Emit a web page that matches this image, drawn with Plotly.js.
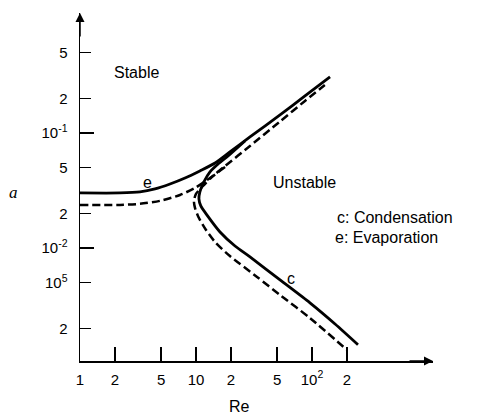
<!DOCTYPE html>
<html>
<head>
<meta charset="utf-8">
<script src="https://cdn.plot.ly/plotly-3.0.1.min.js"></script>
<style>html,body{margin:0;padding:0;background:#fff;}#chart{width:485px;height:417px;}</style>
</head>
<body>
<div id="chart"></div>
<script>
// Evaporation (e) curves
const reE_solid = [1, 2.21, 3.29, 4.43, 5.97, 8.04, 10.8, 14.6, 19.6, 29.2, 53, 87, 143];
const aE_solid  = [0.0301, 0.0301, 0.0307, 0.0326, 0.0360, 0.0406, 0.0468, 0.0548, 0.0684, 0.0923, 0.1435, 0.210, 0.307];
const reE_dash  = [1, 2.21, 3.29, 4.9, 7.28, 9.8, 13.2, 17.8, 29.2, 53, 87, 129];
const aE_dash   = [0.0237, 0.0237, 0.0242, 0.0257, 0.0289, 0.0333, 0.0406, 0.0516, 0.0771, 0.126, 0.190, 0.261];
// Condensation (c) curves
const reC_solid = [26.4, 18.9, 15.5, 13.2, 11.7, 10.8, 10.6, 11.0, 12.4, 16.1, 21.7, 29.2, 53, 96, 158, 249];
const aC_solid  = [0.0852, 0.0631, 0.0537, 0.0458, 0.0375, 0.0307, 0.0267, 0.0232, 0.0194, 0.01378, 0.0104, 0.00836, 0.00527, 0.00333, 0.00218, 0.00144];
const reC_dash  = [17.8, 13.7, 11.5, 10.0, 9.6, 9.8, 10.6, 12.2, 14.6, 19.6, 33.6, 53, 96, 200];
const aC_dash   = [0.0506, 0.0414, 0.0346, 0.0295, 0.0256, 0.0223, 0.0182, 0.01435, 0.01127, 0.00851, 0.00560, 0.0039, 0.00246, 0.0013];

// Tick labels
const xTickVals = [1, 2, 5, 10, 20, 50, 100, 200];
const xTickText = ['1', '2', '5', '10', '2', '5', '10<sup>2</sup>', '2'];
const yTickVals = [0.5, 0.2, 0.1, 0.05, 0.02, 0.01, 0.005, 0.002];
const yTickText = ['5', '2', '10<sup>-1</sup>', '5', '2', '10<sup>-2</sup>', '10<sup>5</sup>', '2'];
const yDecadeVals = [0.1, 0.01];

const FONT = 'Liberation Sans, Arial, sans-serif';
const solid = {color: '#000', width: 2.8, shape: 'spline', smoothing: 0.7};
const dashed = {color: '#000', width: 2.5, dash: '8px,4px', shape: 'spline', smoothing: 0.7};

const traces = [
  {x: reE_solid, y: aE_solid, mode: 'lines', line: solid, hoverinfo: 'skip'},
  {x: reE_dash, y: aE_dash, mode: 'lines', line: dashed, hoverinfo: 'skip'},
  {x: reC_solid, y: aC_solid, mode: 'lines', line: solid, hoverinfo: 'skip'},
  {x: reC_dash, y: aC_dash, mode: 'lines', line: dashed, hoverinfo: 'skip'},
  {x: [1], y: [0.01], yaxis: 'y2', mode: 'markers', marker: {opacity: 0}, hoverinfo: 'skip'}
];

function label(x, y, text, extra) {
  return Object.assign({xref: 'paper', yref: 'paper', x: x, y: y, text: text, showarrow: false,
    xanchor: 'center', yanchor: 'middle', font: {family: FONT, size: 16, color: '#000'}}, extra || {});
}

const layout = {
  width: 485, height: 417,
  margin: {l: 80, r: 52, t: 13, b: 56, pad: 0},
  paper_bgcolor: '#fff', plot_bgcolor: '#fff',
  showlegend: false,
  font: {family: FONT, size: 15, color: '#000'},
  xaxis: {
    type: 'log', range: [0, 3.043],
    showline: true, linecolor: '#000', linewidth: 1.5,
    showgrid: false, zeroline: false,
    ticks: 'inside', ticklen: 14, tickwidth: 1.5, tickcolor: '#000',
    tickmode: 'array', tickvals: xTickVals, ticktext: xTickText,
    tickfont: {family: FONT, size: 15, color: '#000'},
    ticklabelstandoff: 4
  },
  yaxis: {
    type: 'log', range: [-2.983, 0.0435],
    showline: true, linecolor: '#000', linewidth: 1.5,
    showgrid: false, zeroline: false,
    ticks: 'inside', ticklen: 11, tickwidth: 1.5, tickcolor: '#000',
    tickmode: 'array', tickvals: yTickVals, ticktext: yTickText,
    tickfont: {family: FONT, size: 15, color: '#000'},
    ticklabelstandoff: 8
  },
  yaxis2: {
    type: 'log', range: [-2.983, 0.0435], overlaying: 'y',
    showline: false, showgrid: false, zeroline: false,
    ticks: 'inside', ticklen: 14, tickwidth: 1.5, tickcolor: '#000',
    tickmode: 'array', tickvals: yDecadeVals, showticklabels: false
  },
  annotations: [
    {xref: 'paper', yref: 'paper', x: 1, y: 0, ax: -25, ay: 0, text: '', showarrow: true,
     arrowhead: 2, arrowsize: 1.2, arrowwidth: 1.5, arrowcolor: '#000'},
    {xref: 'paper', yref: 'paper', x: 0, y: 1, ax: 0, ay: 25, text: '', showarrow: true,
     arrowhead: 2, arrowsize: 1.2, arrowwidth: 1.5, arrowcolor: '#000'},
    label(0.159, 0.828, 'Stable'),
    label(0.635, 0.514, 'Unstable'),
    label(0.722, 0.411, 'c: Condensation', {xanchor: 'left'}),
    label(0.717, 0.356, 'e: Evaporation', {xanchor: 'left'}),
    label(0.190, 0.514, 'e'),
    label(0.598, 0.236, 'c'),
    label(0.453, -0.132, 'Re'),
    label(-0.187, 0.483, '<i>a</i>', {font: {family: 'Liberation Serif, serif', size: 17, color: '#000'}})
  ]
};

Plotly.newPlot('chart', traces, layout, {staticPlot: true, displayModeBar: false});
</script>
</body>
</html>
